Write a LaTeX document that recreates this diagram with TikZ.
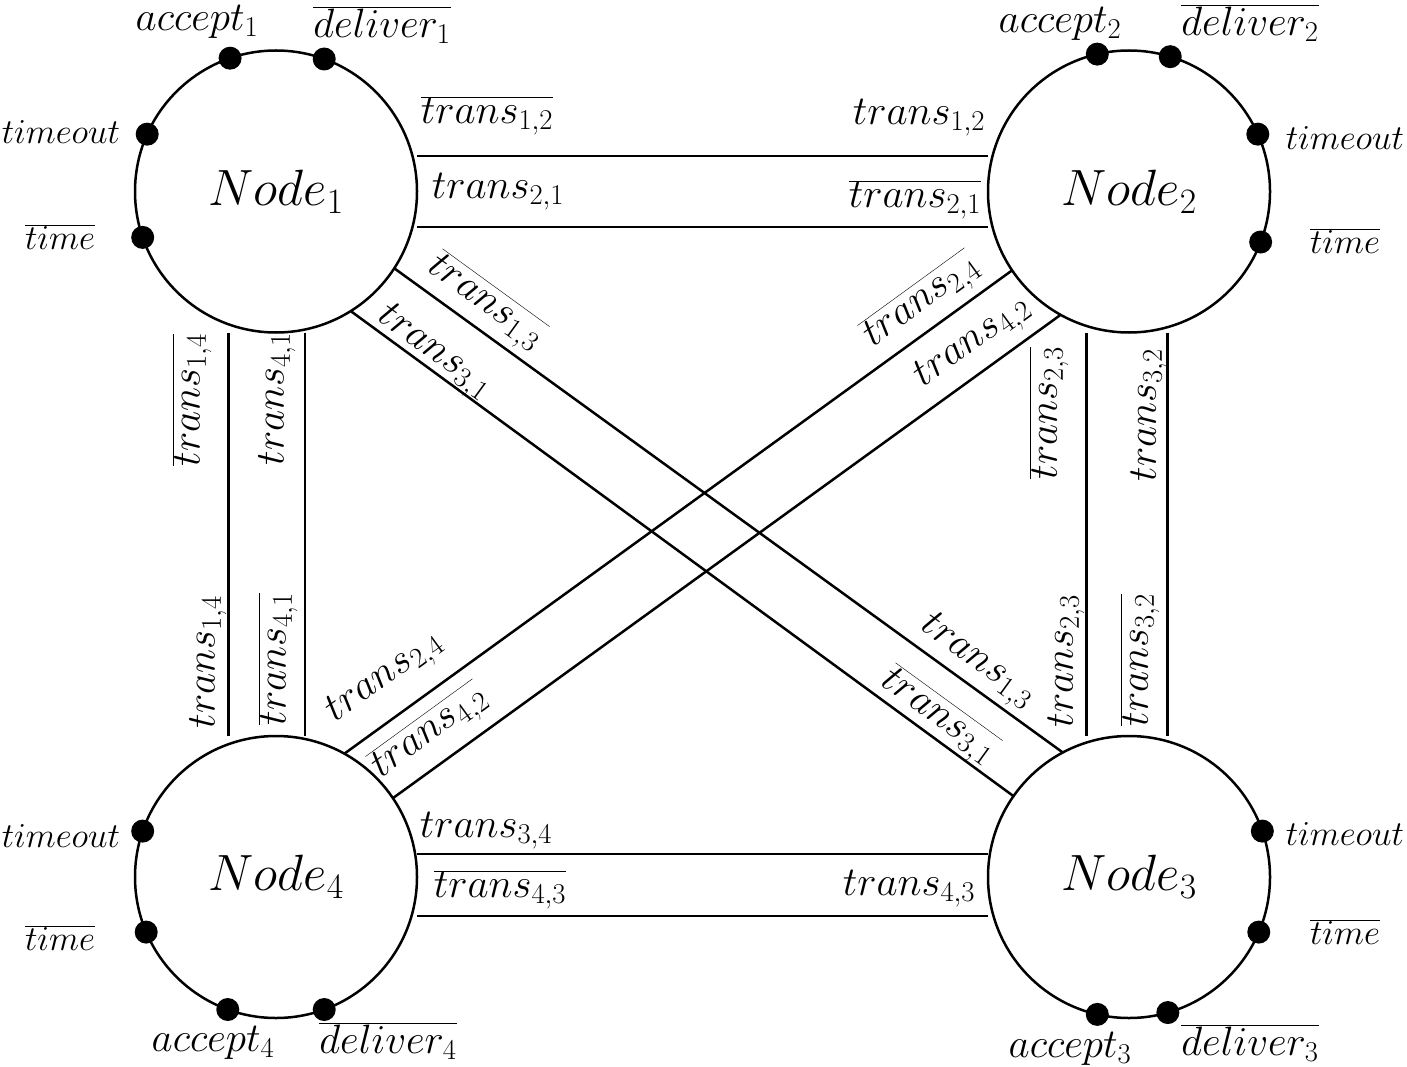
\RequirePackage{fix-cm}
\documentclass[tikz,border=0pt]{standalone}
\begin{document}
\begin{tikzpicture}[x=1pt,y=-1pt,
  every node/.style={inner sep=0pt, outer sep=0pt},
  proc/.style={draw, circle, line width=2.5pt, minimum size=282pt, font=\fontsize{51}{60}\selectfont},
  port/.style={circle, fill, minimum size=23pt},
  lab/.style={font=\fontsize{41}{48}\selectfont},
  sig/.style={font=\fontsize{35}{40}\selectfont},
  wire/.style={line width=2.5pt}]
\useasboundingbox (0,0) rectangle (1407,1067);

% processes
\node[proc] (n1) at (276,191.5) {$Node_1$};
\node[proc] (n2) at (1129,191.5) {$Node_2$};
\node[proc] (n4) at (276,877) {$Node_4$};
\node[proc] (n3) at (1129,877) {$Node_3$};

% ports
\node[port] (p1a) at (n1.109) {};
\node[port] (p1d) at (n1.70) {};
\node[port] (p1o) at (n1.156) {};
\node[port] (p1t) at (n1.199) {};
\node[port] (p2a) at (n2.103) {};
\node[port] (p2d) at (n2.73.5) {};
\node[port] (p2o) at (n2.24) {};
\node[port] (p2t) at (n2.-21) {};
\node[port] (p4o) at (n4.161) {};
\node[port] (p4t) at (n4.203.5) {};
\node[port] (p4a) at (n4.250.5) {};
\node[port] (p4d) at (n4.290) {};
\node[port] (p3o) at (n3.19) {};
\node[port] (p3t) at (n3.-23.5) {};
\node[port] (p3a) at (n3.257) {};
\node[port] (p3d) at (n3.286.5) {};

% port labels
\node[lab] (l1a) at (197,22) {$accept_1$};
\node[lab] (l1d) at (382,25) {$\overline{deliver_1}$};
\node[sig] (l1o) at (61,132) {$timeout$};
\node[sig] (l1t) at (60,237) {$\overline{time}$};
\node[lab] (l2a) at (1060,24) {$accept_2$};
\node[lab] (l2d) at (1250,23) {$\overline{deliver_2}$};
\node[sig] (l2o) at (1345,138) {$timeout$};
\node[sig] (l2t) at (1345,241) {$\overline{time}$};
\node[sig] (l4o) at (61,836) {$timeout$};
\node[sig] (l4t) at (60,938) {$\overline{time}$};
\node[lab] (l4a) at (213,1043) {$accept_4$};
\node[lab] (l4d) at (388,1041) {$\overline{deliver_4}$};
\node[sig] (l3o) at (1345,834) {$timeout$};
\node[sig] (l3t) at (1345,932) {$\overline{time}$};
\node[lab] (l3a) at (1070,1049) {$accept_3$};
\node[lab] (l3d) at (1250,1043) {$\overline{deliver_3}$};

% channels
\draw[wire] ([yshift=35.5pt]n1.east) -- ([yshift=35.5pt]n2.west);
\draw[wire] ([yshift=-35.5pt]n1.east) -- ([yshift=-35.5pt]n2.west);
\draw[wire] ([yshift=23pt]n4.east) -- ([yshift=23pt]n3.west);
\draw[wire] ([yshift=-39pt]n4.east) -- ([yshift=-39pt]n3.west);
\draw[wire] ([xshift=-47.5pt]n1.south) -- ([xshift=-47.5pt]n4.north);
\draw[wire] ([xshift=29pt]n1.south) -- ([xshift=29pt]n4.north);
\draw[wire] ([xshift=-42.5pt]n2.south) -- ([xshift=-42.5pt]n3.north);
\draw[wire] ([xshift=38.5pt]n2.south) -- ([xshift=38.5pt]n3.north);
\draw[wire] (n1.-33) -- (n3.118);
\draw[wire] (n1.-58) -- (n3.145);
\draw[wire] (n2.214) -- (n4.61);
\draw[wire] (n2.-119) -- (n4.34);

% channel labels: horizontal
\node[lab] (c12a) at (487,116) {$\overline{trans_{1,2}}$};
\node[lab] (c21a) at (498,192) {$trans_{2,1}$};
\node[lab] (c12b) at (919,118) {$trans_{1,2}$};
\node[lab] (c21b) at (915,200) {$\overline{trans_{2,1}}$};
\node[lab] (c34a) at (486,831) {$trans_{3,4}$};
\node[lab] (c43a) at (500,890) {$\overline{trans_{4,3}}$};
\node[lab] (c43b) at (909,889) {$trans_{4,3}$};

% channel labels: vertical
\node[lab, rotate=90] (c14a) at (192,400) {$\overline{trans_{1,4}}$};
\node[lab, rotate=90] (c41a) at (277,399) {$trans_{4,1}$};
\node[lab, rotate=90] (c14b) at (208,662) {$trans_{1,4}$};
\node[lab, rotate=90] (c41b) at (278,659) {$\overline{trans_{4,1}}$};
\node[lab, rotate=90] (c23a) at (1049,413) {$\overline{trans_{2,3}}$};
\node[lab, rotate=90] (c32a) at (1149,415) {$trans_{3,2}$};
\node[lab, rotate=90] (c23b) at (1066,661) {$trans_{2,3}$};
\node[lab, rotate=90] (c32b) at (1140,660) {$\overline{trans_{3,2}}$};

% channel labels: diagonal
\node[lab, rotate=-36] (c13a) at (485,303) {$\overline{trans_{1,3}}$};
\node[lab, rotate=-36] (c31a) at (434,353) {$trans_{3,1}$};
\node[lab, rotate=-36] (c13b) at (977,662) {$trans_{1,3}$};
\node[lab, rotate=-36] (c31b) at (938,717) {$\overline{trans_{3,1}}$};
\node[lab, rotate=36] (c24a) at (922,302) {$\overline{trans_{2,4}}$};
\node[lab, rotate=36] (c42a) at (973,343) {$trans_{4,2}$};
\node[lab, rotate=36] (c24b) at (385,678) {$trans_{2,4}$};
\node[lab, rotate=36] (c42b) at (430,733) {$\overline{trans_{4,2}}$};
\end{tikzpicture}
\end{document}
